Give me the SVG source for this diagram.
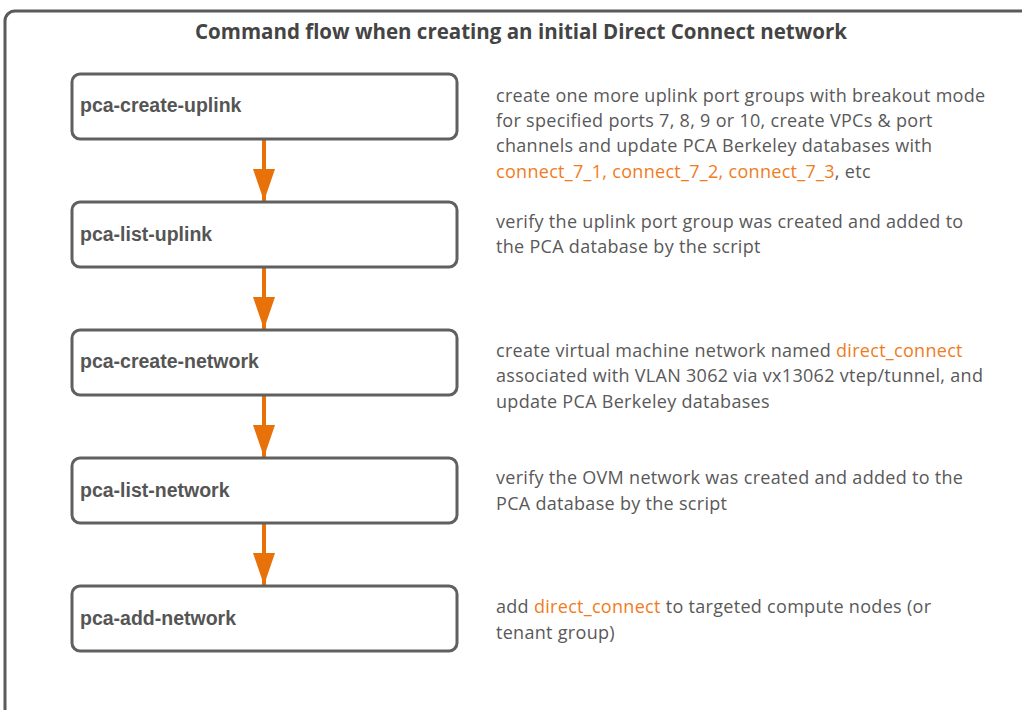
<svg xmlns="http://www.w3.org/2000/svg" width="1022" height="710" viewBox="0 0 1022 710">
<defs>
<style>
.frame{fill:#fff;stroke:#5a5a5a;stroke-width:3}
.box{fill:#fff;stroke:#606060;stroke-width:3}
.lbl{font-family:"Liberation Sans",Arial,sans-serif;font-weight:bold;font-size:19.5px;fill:#555}
.desc{font-family:"Open Sans","Liberation Sans",sans-serif;font-size:18px;letter-spacing:0.3px;fill:#595959}
.hl{fill:#F07C1E}
.title{font-family:"Open Sans","Liberation Sans",sans-serif;font-weight:bold;font-size:20.5px;fill:#444}
.conn{stroke:#E8710A;stroke-width:4;fill:none}
</style>
<marker id="ah" markerUnits="userSpaceOnUse" markerWidth="34" markerHeight="24" refX="32" refY="11" orient="auto">
<path d="M0,0 L32,11 L0,22 Z" fill="#E8710A"/>
</marker>
</defs>
<rect x="5" y="11" width="1040" height="720" rx="10" class="frame"/>
<text x="521" y="39" text-anchor="middle" class="title">Command flow when creating an initial Direct Connect network</text>
<g id="connectors">
<line x1="264" y1="140" x2="264" y2="201" class="conn" marker-end="url(#ah)"/>
<line x1="264" y1="268" x2="264" y2="329" class="conn" marker-end="url(#ah)"/>
<line x1="264" y1="396" x2="264" y2="457" class="conn" marker-end="url(#ah)"/>
<line x1="264" y1="524" x2="264" y2="585" class="conn" marker-end="url(#ah)"/>
</g>
<g id="n1">
<rect x="72" y="74" width="385" height="65" rx="8" class="box"/>
<text x="80" y="112" class="lbl">pca-create-uplink</text>
</g>
<g id="n2">
<rect x="72" y="202" width="385" height="65" rx="8" class="box"/>
<text x="80" y="241" class="lbl">pca-list-uplink</text>
</g>
<g id="n3">
<rect x="72" y="330" width="385" height="65" rx="8" class="box"/>
<text x="80" y="368" class="lbl">pca-create-network</text>
</g>
<g id="n4">
<rect x="72" y="458" width="385" height="65" rx="8" class="box"/>
<text x="80" y="497" class="lbl">pca-list-network</text>
</g>
<g id="n5">
<rect x="72" y="586" width="385" height="65" rx="8" class="box"/>
<text x="80" y="625" class="lbl">pca-add-network</text>
</g>
<g id="d1" class="desc">
<text x="496" y="102">create one more uplink port groups with breakout mode</text>
<text x="496" y="127">for specified ports 7, 8, 9 or 10, create VPCs &amp; port</text>
<text x="496" y="152">channels and update PCA Berkeley databases with</text>
<text x="496" y="178"><tspan class="hl">connect_7_1, connect_7_2, connect_7_3</tspan>, etc</text>
</g>
<g id="d2" class="desc">
<text x="496" y="228">verify the uplink port group was created and added to</text>
<text x="496" y="253">the PCA database by the script</text>
</g>
<g id="d3" class="desc">
<text x="496" y="357">create virtual machine network named <tspan class="hl">direct_connect</tspan></text>
<text x="496" y="382">associated with VLAN 3062 via vx13062 vtep/tunnel, and</text>
<text x="496" y="408">update PCA Berkeley databases</text>
</g>
<g id="d4" class="desc">
<text x="496" y="484">verify the OVM network was created and added to the</text>
<text x="496" y="510">PCA database by the script</text>
</g>
<g id="d5" class="desc">
<text x="496" y="613">add <tspan class="hl">direct_connect</tspan> to targeted compute nodes (or</text>
<text x="496" y="639">tenant group)</text>
</g>
</svg>
